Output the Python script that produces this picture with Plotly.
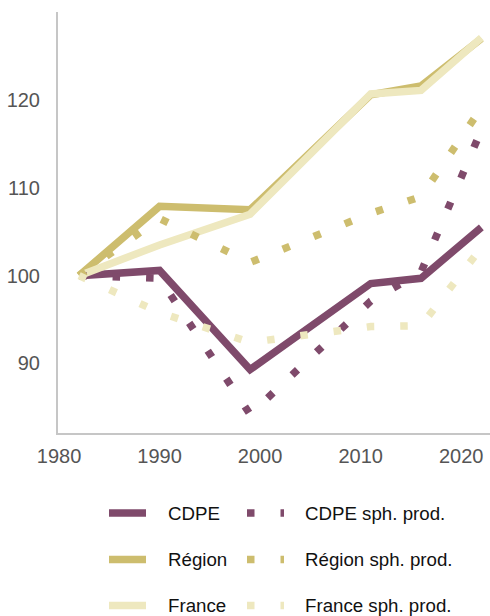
import plotly.graph_objects as go

# Census years and indexed values (base 100 in 1982)
years = [1982, 1990, 1999, 2011, 2016, 2022]

cdpe = [100, 100.6, 89.3, 99.1, 99.7, 105.5]
region = [100, 107.9, 107.5, 120.6, 121.6, 127.0]
france = [100, 103.5, 107.0, 120.7, 121.1, 127.1]

cdpe_prod = [100, 99.7, 84.2, 97.1, 100.4, 116.6]
region_prod = [100, 106.5, 101.5, 107.1, 109.0, 119.1]
france_prod = [100, 95.8, 92.4, 94.2, 94.3, 103.2]

x_ticks = [1980, 1990, 2000, 2010, 2020]
y_ticks = [90, 100, 110, 120]

PURPLE = "#7f4a6b"
GOLD = "#cdbd6e"
LIGHT = "#eee8bf"
DOTS = "7.5px,26px"
LINE_W = 7.5

series = [
    ("CDPE", cdpe, PURPLE, "solid"),
    ("Région", region, GOLD, "solid"),
    ("France", france, LIGHT, "solid"),
    ("CDPE sph. prod.", cdpe_prod, PURPLE, DOTS),
    ("Région sph. prod.", region_prod, GOLD, DOTS),
    ("France sph. prod.", france_prod, LIGHT, DOTS),
]

fig = go.Figure()
for name, vals, color, dash in series:
    fig.add_trace(go.Scatter(
        x=years, y=vals, name=name, mode="lines",
        line=dict(color=color, width=LINE_W, dash=dash),
        showlegend=False, hoverinfo="skip",
    ))

FONT = "Liberation Sans, Arial, sans-serif"

fig.update_layout(
    width=490, height=616,
    margin=dict(l=58, r=0, t=12, b=183),
    paper_bgcolor="white", plot_bgcolor="white",
    font=dict(family=FONT, size=20, color="#555555"),
    xaxis=dict(
        range=[1979.9, 2022.86], tickvals=x_ticks,
        showgrid=False, zeroline=False,
        showline=True, linecolor="#c6c6c6", linewidth=2,
        ticks="", ticklabelstandoff=4,
    ),
    yaxis=dict(
        range=[82.08, 130.03], tickvals=y_ticks,
        showgrid=False, zeroline=False,
        showline=True, linecolor="#c6c6c6", linewidth=2,
        ticks="", ticklabelstandoff=12,
    ),
)

# Hand-built legend: three rows, solid series on the left, productive sphere on the right
rows = [("CDPE", PURPLE, -80), ("Région", GOLD, -126.5), ("France", LIGHT, -172.5)]
for label, color, dy in rows:
    for x_off, dash, text, text_off in [
        (51, "solid", label, 108),
        (189, DOTS, label + " sph. prod.", 245),
    ]:
        fig.add_shape(
            type="line", xref="paper", yref="paper",
            xsizemode="pixel", ysizemode="pixel",
            xanchor=0, yanchor=0,
            x0=x_off, x1=x_off + 37, y0=dy, y1=dy,
            line=dict(color=color, width=LINE_W, dash=dash),
        )
        fig.add_annotation(
            xref="paper", yref="paper", x=0, y=0,
            xanchor="left", yanchor="middle",
            xshift=text_off, yshift=dy,
            text=text, showarrow=False,
            font=dict(family=FONT, size=18.7, color="#111111"),
        )

fig.write_html("out.html")
